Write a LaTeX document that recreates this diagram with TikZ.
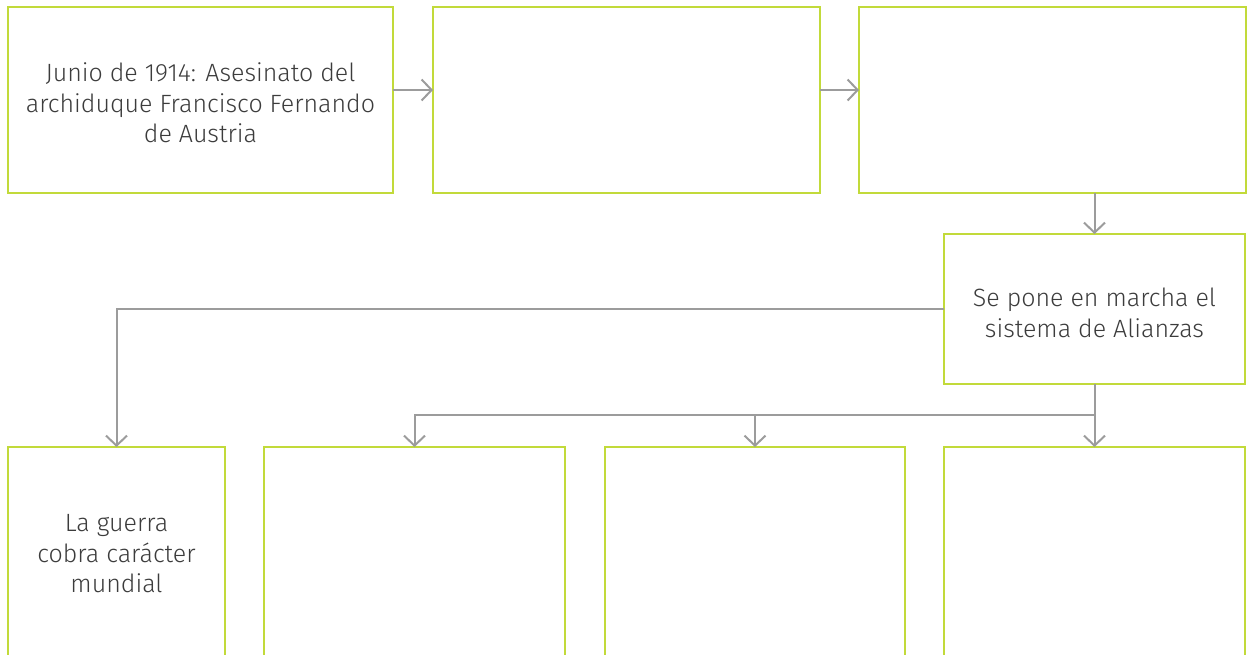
\documentclass[tikz,border=0pt]{standalone}
\usepackage{fontspec}
\setmainfont{Fira Sans Light}
\usetikzlibrary{arrows.meta}
\definecolor{boxgreen}{HTML}{C2DA3A}
\definecolor{linegray}{HTML}{9C9C9C}
\definecolor{txt}{HTML}{3C3C3C}
\tikzset{
  box/.style={draw=boxgreen, line width=2.6pt, inner sep=0pt, outer sep=0pt, fill=none},
  lbl/.style={text=txt, align=center, inner sep=0pt, font=\fontsize{25}{30.5}\selectfont},
  arr/.style={draw=linegray, line width=2pt, -{Straight Barb[length=10pt,width=21pt,line width=2pt]}},
}
\begin{document}
\begin{tikzpicture}[x=1pt,y=-1pt]
\useasboundingbox (0,0) rectangle (1248,654);
\clip (0,0) rectangle (1248,654);
% top row
\node[box, minimum width=385pt, minimum height=186pt] (b1) at (200.5,100) {};
\node[lbl] (t1) at (200.5,103) {Junio de 1914: Asesinato del\\archiduque Francisco Fernando\\de Austria};
\node[box, minimum width=387pt, minimum height=186pt] (b2) at (626.5,100) {};
\node[box, minimum width=387pt, minimum height=186pt] (b3) at (1052.5,100) {};
% middle
\node[box, minimum width=301pt, minimum height=150pt] (b4) at (1094.5,309) {};
\node[lbl] (t4) at (1094.5,313) {Se pone en marcha el\\sistema de Alianzas};
% bottom row (open at the bottom edge)
\node[box, minimum width=217pt, minimum height=253pt] (b5) at (116.5,573.5) {};
\node[lbl] (t5) at (116.5,554) {La guerra\\cobra carácter\\mundial};
\node[box, minimum width=301pt, minimum height=253pt] (b6) at (414.5,573.5) {};
\node[box, minimum width=300pt, minimum height=253pt] (b7) at (755,573.5) {};
\node[box, minimum width=301pt, minimum height=253pt] (b8) at (1094.5,573.5) {};
% connectors
\draw[arr] ([yshift=10pt]b1.east) -- ([yshift=10pt]b2.west);
\draw[arr] ([yshift=10pt]b2.east) -- ([yshift=10pt]b3.west);
\draw[arr] (b4.north |- b3.south) -- (b4.north);
\draw[arr] (b4.west) -| (b5.north);
\coordinate (j) at (1094.5,415);
\draw[arr] (b4.south) -- (b8.north);
\draw[arr] (j) -| (b6.north);
\draw[arr] (j) -| (b7.north);
\end{tikzpicture}
\end{document}
